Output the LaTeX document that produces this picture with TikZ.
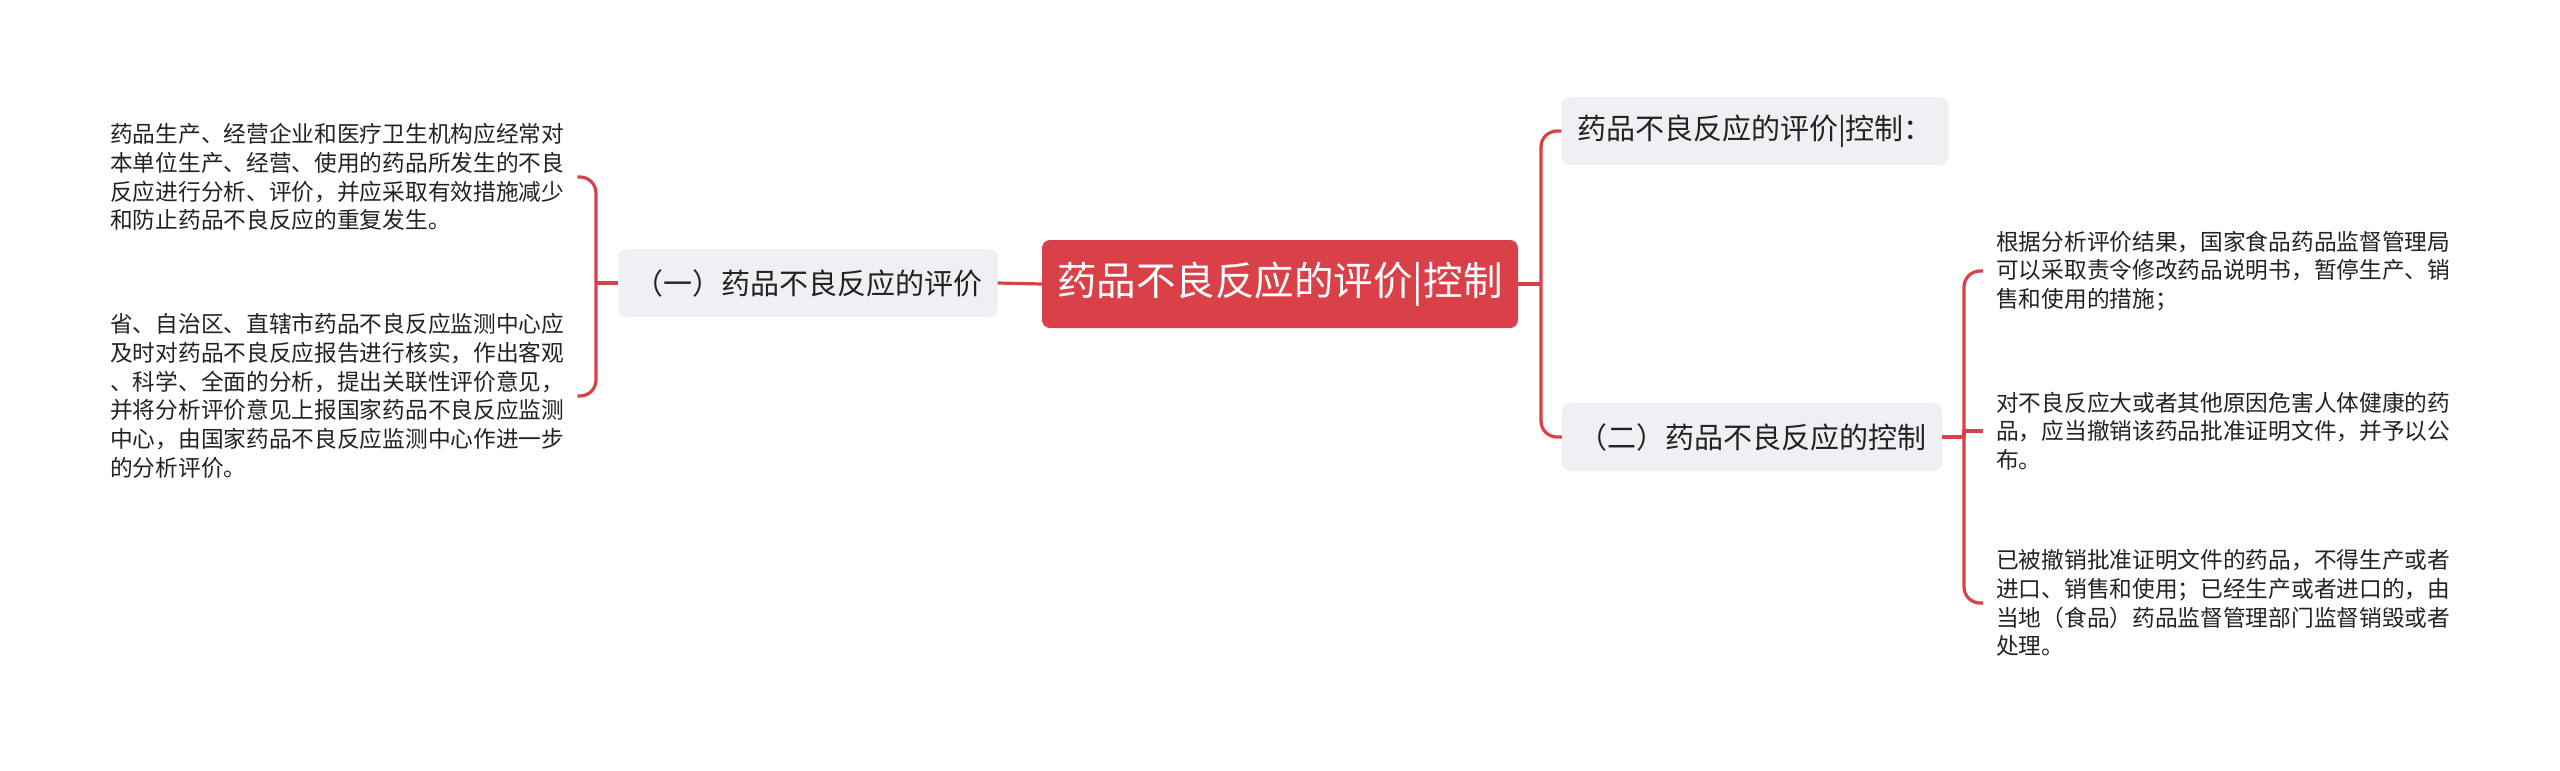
\documentclass[tikz,border=0pt]{standalone}
\usepackage{fontspec}
\setmainfont{Noto Sans CJK SC}
\usepackage{tikz}
\definecolor{rootred}{RGB}{218,64,72}
\definecolor{branchgray}{RGB}{238,240,243}
\definecolor{textdark}{RGB}{34,34,34}
\tikzset{
  root/.style  ={fill=rootred, text=white, rounded corners=8pt, inner sep=0pt,
                 minimum width=476pt, minimum height=88pt, font=\fontsize{39.5}{44}\selectfont},
  branch/.style={fill=branchgray, text=textdark, rounded corners=8pt, inner sep=0pt,
                 minimum height=68pt, font=\fontsize{29}{34}\selectfont},
  leaf/.style  ={text=textdark, align=left, inner xsep=13pt, inner ysep=0pt,
                 font=\fontsize{22.7}{28.7}\selectfont},
  link/.style  ={draw=rootred, line width=3.2pt, rounded corners=16pt},
}

\begin{document}
\begin{tikzpicture}[x=1pt,y=-1pt]
  \useasboundingbox (0,0) rectangle (2560,771);
  % centre and first level
  \node[root] (root) at (1280,284) {药品不良反应的评价|控制};
  \node[branch, minimum width=379pt] (lsub) at (808,283) {（一）药品不良反应的评价};
  \node[branch, minimum width=387pt] (rtop) at (1755,131) {药品不良反应的评价|控制：};
  \node[branch, minimum width=380pt] (rbot) at (1752,437) {（二）药品不良反应的控制};
  % left leaves
  \node[leaf, anchor=west] (ltxt1) at (97,177) {药品生产、经营企业和医疗卫生机构应经常对\\本单位生产、经营、使用的药品所发生的不良\\反应进行分析、评价，并应采取有效措施减少\\和防止药品不良反应的重复发生。};
  \node[leaf, anchor=west] (ltxt2) at (97,396) {省、自治区、直辖市药品不良反应监测中心应\\及时对药品不良反应报告进行核实，作出客观\\、科学、全面的分析，提出关联性评价意见，\\并将分析评价意见上报国家药品不良反应监测\\中心，由国家药品不良反应监测中心作进一步\\的分析评价。};
  % right leaves
  \node[leaf, anchor=west] (rtxt1) at (1983,271) {根据分析评价结果，国家食品药品监督管理局\\可以采取责令修改药品说明书，暂停生产、销\\售和使用的措施；};
  \node[leaf, anchor=west] (rtxt2) at (1983,431) {对不良反应大或者其他原因危害人体健康的药\\品，应当撤销该药品批准证明文件，并予以公\\布。};
  \node[leaf, anchor=west] (rtxt3) at (1983,603) {已被撤销批准证明文件的药品，不得生产或者\\进口、销售和使用；已经生产或者进口的，由\\当地（食品）药品监督管理部门监督销毁或者\\处理。};
  % connectors
  \coordinate (lbr) at (596,283);
  \coordinate (rbr) at (1541,284);
  \coordinate (rbr2) at (1964,437);
  \draw[link] (root.west) -- (lsub.east);
  \draw[link] (lsub.west) -- (lbr);
  \draw[link] (lbr) |- (ltxt1.east);
  \draw[link] (lbr) |- (ltxt2.east);
  \draw[link] (root.east) -- (rbr);
  \draw[link] (rbr) |- (rtop.west);
  \draw[link] (rbr) |- (rbot.west);
  \draw[link] (rbot.east) -- (rbr2);
  \draw[link] (rbr2) |- (rtxt1.west);
  \draw[link, sharp corners] (rbr2) |- (rtxt2.west);
  \draw[link] (rbr2) |- (rtxt3.west);
\end{tikzpicture}
\end{document}
